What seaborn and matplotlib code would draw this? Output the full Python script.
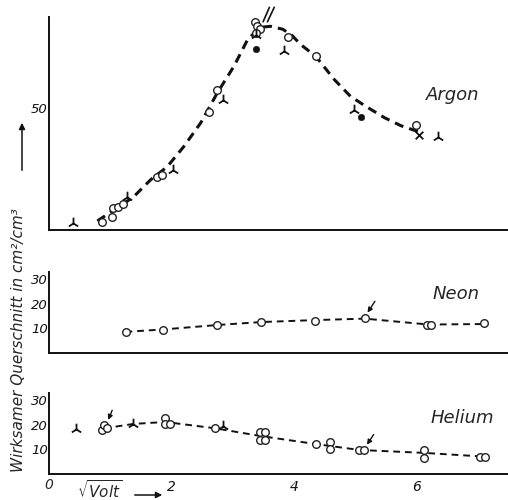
import matplotlib
matplotlib.use("Agg")
import matplotlib.pyplot as plt
import seaborn as sns

sns.set_style("white")
plt.rcParams['font.family'] = ['DejaVu Sans']

# ---------------- data ----------------
# Argon
argon_curve_x = [0.79, 1.11, 1.38, 1.66, 1.93, 2.2, 2.48, 2.75, 3.02, 3.25, 3.46, 3.62, 3.82, 3.97, 4.11, 4.36, 4.66, 4.93, 5.21, 5.48, 5.75, 6.03]
argon_curve_y = [3.7, 9.0, 13.5, 20.5, 25.8, 34.0, 43.8, 56.0, 66.8, 78.0, 82.8, 83.2, 82.0, 79.5, 75.8, 70.9, 61.5, 54.5, 50.0, 45.9, 42.6, 40.2]
argon_circ_x = [0.87, 1.03, 1.05, 1.13, 1.21, 1.77, 1.85, 2.61, 2.74, 3.36, 3.40, 3.44, 3.38, 3.90, 4.36, 6.0]
argon_circ_y = [3.3, 5.3, 9.0, 9.4, 10.6, 21.7, 22.5, 48.0, 57.0, 85.0, 83.5, 82.0, 80.5, 79.0, 71.0, 43.0]
argon_tri_x = [0.39, 1.28, 2.02, 2.84, 3.38, 3.84, 4.98, 6.36]
argon_tri_y = [2.9, 13.5, 24.6, 53.0, 79.5, 73.0, 49.0, 38.0]
argon_fill_x = [3.39, 5.1]
argon_fill_y = [73.8, 46.3]
argon_cross_x = [6.05]
argon_cross_y = [39.0]

# Neon
neon_curve_x = [1.25, 1.87, 2.75, 3.46, 4.34, 5.16, 6.2, 7.1]
neon_curve_y = [8.6, 9.6, 11.4, 12.6, 13.4, 14.0, 11.6, 11.8]
neon_circ_x = [1.25, 1.87, 2.75, 3.46, 4.34, 5.16, 6.18, 6.24, 7.1]
neon_circ_y = [8.6, 9.4, 11.4, 12.6, 13.0, 14.3, 11.4, 11.4, 12.2]

# Helium
helium_curve_x = [0.9, 1.38, 1.9, 2.72, 3.45, 4.36, 5.07, 6.13, 7.04, 7.15]
helium_curve_y = [18.6, 20.4, 21.2, 18.6, 15.5, 12.2, 9.8, 8.6, 7.2, 7.0]
helium_circ_x = [0.86, 0.90, 0.94, 1.90, 1.90, 1.98, 2.72, 3.45, 3.45, 3.53, 3.53, 4.36, 4.59, 4.59, 5.07, 5.15, 6.13, 6.13, 7.04, 7.12]
helium_circ_y = [17.8, 20.0, 18.6, 23.0, 20.4, 20.4, 18.8, 17.1, 14.0, 17.1, 14.0, 12.2, 13.0, 10.2, 9.8, 9.8, 9.8, 6.5, 6.9, 6.9]
helium_tri_x = [0.44, 1.38, 2.85]
helium_tri_y = [18.4, 20.4, 19.6]

x_ticks = [2, 4, 6]
x_ticklabels = ["2", "4", "6"]
argon_yticks = [10, 20, 30, 40, 50, 60, 70, 80]
argon_yticklabels = ["", "", "", "", "50", "", "", ""]
small_yticks = [10, 20, 30]
small_yticklabels = ["10", "20", "30"]

# ---------------- figure ----------------
W, H = 508, 500
fig = plt.figure(figsize=(W / 100, H / 100), dpi=100)

def px_axes(left, top, right, bottom):
    return fig.add_axes([left / W, 1 - bottom / H, (right - left) / W, (bottom - top) / H])

ax_ar = px_axes(49, 17, 508, 230)
ax_ne = px_axes(49, 272, 508, 353)
ax_he = px_axes(49, 393, 508, 474)

xmax = 7.5
lab_font = dict(fontstyle='italic', fontsize=9.5)

def style(ax, ymax, yticks, yticklabels, show_x):
    ax.set_xlim(0, xmax)
    ax.set_ylim(0, ymax)
    for s in ['top', 'right']:
        ax.spines[s].set_visible(False)
    for s in ['left', 'bottom']:
        ax.spines[s].set_color('#111111')
        ax.spines[s].set_linewidth(1.4)
    ax.set_yticks(yticks)
    ax.set_yticklabels(yticklabels, **lab_font)
    ax.set_xticks(x_ticks)
    if show_x:
        ax.set_xticklabels(x_ticklabels, fontstyle='italic', fontsize=10)
    else:
        ax.set_xticklabels([])
    ax.tick_params(axis='both', direction='in', length=6, width=1.2, colors='#111111')
    ax.tick_params(axis='y', pad=1)
    ax.tick_params(axis='x', pad=4)
    ax.set_xlabel("")
    ax.set_ylabel("")
    ax.patch.set_alpha(0)

def curve(ax, xs, ys, lw, dash):
    sns.lineplot(x=xs, y=ys, ax=ax, color='#111111', lw=lw, sort=False,
                 estimator=None, linestyle=(0, dash))

def circles(ax, xs, ys, s=30):
    sns.scatterplot(x=xs, y=ys, ax=ax, marker='o', s=s, color='white',
                    edgecolor='#222222', linewidth=1.0, zorder=3)

def tris(ax, xs, ys):
    sns.scatterplot(x=xs, y=ys, ax=ax, marker='2', s=70, color='#111111',
                    linewidth=1.3, zorder=3)

# Argon
curve(ax_ar, argon_curve_x, argon_curve_y, 2.2, (3, 2))
circles(ax_ar, argon_circ_x, argon_circ_y)
tris(ax_ar, argon_tri_x, argon_tri_y)
sns.scatterplot(x=argon_fill_x, y=argon_fill_y, ax=ax_ar, marker='o', s=22,
                color='#111111', edgecolor='#111111', zorder=4)
sns.scatterplot(x=argon_cross_x, y=argon_cross_y, ax=ax_ar, marker='x', s=30,
                color='#111111', linewidth=1.3, zorder=4)
style(ax_ar, 87, argon_yticks, argon_yticklabels, False)
ax_ar.annotate('', xy=(3.48, 84), xytext=(3.62, 92),
               arrowprops=dict(arrowstyle='-', lw=1.2, color='#111111'), annotation_clip=False)
ax_ar.annotate('', xy=(3.55, 84), xytext=(3.70, 92),
               arrowprops=dict(arrowstyle='-', lw=1.2, color='#111111'), annotation_clip=False)
ax_ar.text(6.6, 55, "Argon", ha='center', va='center', fontstyle='italic', fontsize=13)

# Neon
curve(ax_ne, neon_curve_x, neon_curve_y, 1.4, (3.5, 2.5))
circles(ax_ne, neon_circ_x, neon_circ_y)
style(ax_ne, 33, small_yticks, small_yticklabels, False)
ax_ne.annotate('', xy=(5.18, 15.5), xytext=(5.35, 22),
               arrowprops=dict(arrowstyle='-|>', lw=1.0, color='#111111', mutation_scale=7))
ax_ne.text(6.65, 24, "Neon", ha='center', va='center', fontstyle='italic', fontsize=13)

# Helium
curve(ax_he, helium_curve_x, helium_curve_y, 1.4, (3.5, 2.5))
circles(ax_he, helium_circ_x, helium_circ_y)
tris(ax_he, helium_tri_x, helium_tri_y)
style(ax_he, 33, small_yticks, small_yticklabels, True)
ax_he.annotate('', xy=(0.95, 21), xytext=(1.05, 27),
               arrowprops=dict(arrowstyle='-|>', lw=1.0, color='#111111', mutation_scale=7))
ax_he.annotate('', xy=(5.17, 11), xytext=(5.33, 17),
               arrowprops=dict(arrowstyle='-|>', lw=1.0, color='#111111', mutation_scale=7))
ax_he.text(6.75, 23, "Helium", ha='center', va='center', fontstyle='italic', fontsize=13)

# zero label and x label
fig.text(49 / W, 1 - 485 / H, "0", ha='center', va='center', fontstyle='italic', fontsize=10)
fig.text(100 / W, 1 - 490 / H, r"$\sqrt{\it{Volt}}$", ha='center', va='center', fontsize=11)
fig.add_artist(matplotlib.patches.FancyArrowPatch((132 / W, 1 - 495 / H), (165 / W, 1 - 495 / H),
               transform=fig.transFigure, arrowstyle='-|>', mutation_scale=9, lw=1.1, color='#111111'))

# y label
fig.text(19 / W, 1 - 340 / H, "Wirksamer Querschnitt in cm²/cm³", rotation=90,
         ha='center', va='center', fontstyle='italic', fontsize=11)
fig.add_artist(matplotlib.patches.FancyArrowPatch((22 / W, 1 - 173 / H), (22 / W, 1 - 120 / H),
               transform=fig.transFigure, arrowstyle='-|>', mutation_scale=9, lw=1.1, color='#111111'))

fig.savefig("out.png", dpi=100)
